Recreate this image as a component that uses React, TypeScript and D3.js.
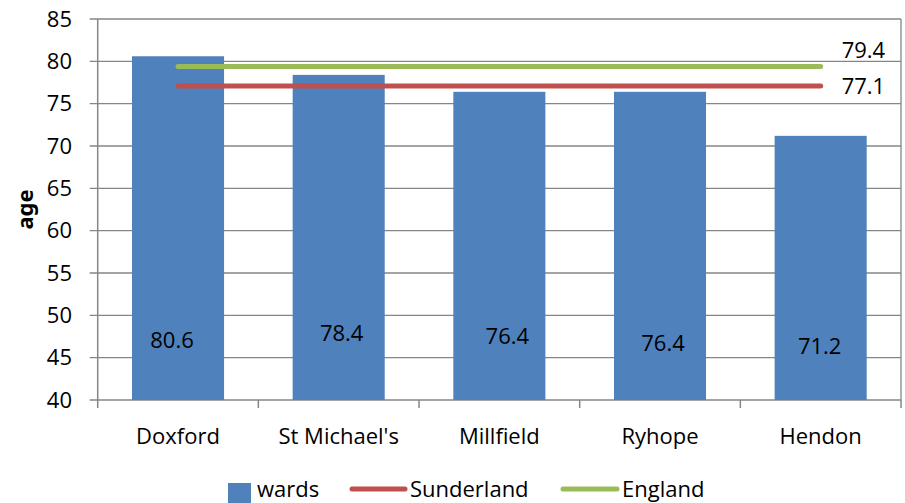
import React from "react";
import * as d3 from "d3";

// Ward life expectancy compared with Sunderland and England averages
const wards = ["Doxford", "St Michael's", "Millfield", "Ryhope", "Hendon"];
const wardAge = [80.6, 78.4, 76.4, 76.4, 71.2];
const sunderlandAge = 77.1;
const englandAge = 79.4;
const yTicks = [40, 45, 50, 55, 60, 65, 70, 75, 80, 85];

// hand-placed label nudges (px) for the in-bar value labels
const labelDx = [-6, 3, 8, 3, -1];
const labelDy = [0, -7, -4, 3, 6];

const W = 905;
const H = 503;
const FONT = "'Open Sans', 'Noto Sans', 'DejaVu Sans', sans-serif";
const GRID = "#868686";

export default function App() {
  const left = 97.7;
  const right = 901;
  const top = 19;
  const bottom = 400;

  const x = d3
    .scaleBand<string>()
    .domain(wards)
    .range([left, right])
    .paddingInner(0.427)
    .paddingOuter(0.2135);
  const step = x.step();
  const y = d3.scaleLinear().domain([40, 85]).range([bottom, top]);

  const cx = (w: string) => (x(w) as number) + x.bandwidth() / 2;
  const lineX0 = cx(wards[0]);
  const lineX1 = cx(wards[wards.length - 1]);

  const fs = 22;
  const legY = 489;

  return (
    <div style={{ position: "fixed", left: 0, top: 0, width: W, height: H, background: "#fff" }}>
      <svg width={W} height={H} style={{ display: "block", fontFamily: FONT }}>
        {/* gridlines */}
        {yTicks.map((t) => (
          <line key={t} x1={left - 8} x2={right} y1={y(t)} y2={y(t)} stroke={GRID} strokeWidth={1.3} />
        ))}
        {/* right border */}
        <line x1={right} x2={right} y1={top} y2={bottom} stroke={GRID} strokeWidth={1.3} />
        {/* y axis */}
        <line x1={left} x2={left} y1={top} y2={bottom + 8} stroke={GRID} strokeWidth={1.5} />
        {/* category ticks */}
        {wards.map((w, i) => (
          <line
            key={w}
            x1={left + step * (i + 1)}
            x2={left + step * (i + 1)}
            y1={bottom}
            y2={bottom + 8}
            stroke={GRID}
            strokeWidth={1.5}
          />
        ))}
        {/* y tick labels */}
        {yTicks.map((t) => (
          <text key={t} x={72} y={y(t)} dy="0.35em" textAnchor="end" fontSize={fs} fill="#000">
            {t}
          </text>
        ))}
        <text
          transform={`translate(25,${(top + bottom) / 2}) rotate(-90)`}
          textAnchor="middle"
          dy="0.35em"
          fontSize={fs}
          fontWeight={700}
          fontFamily="'Noto Sans', 'DejaVu Sans', sans-serif"
          fill="#000"
        >
          age
        </text>
        {/* bars */}
        {wards.map((w, i) => (
          <rect
            key={w}
            x={x(w)}
            y={y(wardAge[i])}
            width={x.bandwidth()}
            height={bottom - y(wardAge[i])}
            fill="#4F81BD"
          />
        ))}
        {/* average lines */}
        <line x1={lineX0} x2={lineX1} y1={y(englandAge)} y2={y(englandAge)} stroke="#9BBB59" strokeWidth={5} strokeLinecap="round" />
        <line x1={lineX0} x2={lineX1} y1={y(sunderlandAge)} y2={y(sunderlandAge)} stroke="#C0504D" strokeWidth={5} strokeLinecap="round" />
        <text x={lineX1 + 21} y={y(englandAge) - 16} dy="0.35em" fontSize={fs} fill="#000">
          {englandAge}
        </text>
        <text x={lineX1 + 21} y={y(sunderlandAge)} dy="0.35em" fontSize={fs} fill="#000">
          {sunderlandAge}
        </text>
        {/* value labels */}
        {wards.map((w, i) => (
          <text
            key={w}
            x={cx(w) + labelDx[i]}
            y={340 + labelDy[i]}
            dy="0.35em"
            textAnchor="middle"
            fontSize={fs}
            fill="#000"
          >
            {wardAge[i].toFixed(1)}
          </text>
        ))}
        {/* category labels */}
        {wards.map((w) => (
          <text key={w} x={cx(w)} y={436} dy="0.35em" textAnchor="middle" fontSize={fs} fill="#000">
            {w}
          </text>
        ))}
        {/* legend */}
        <rect x={228} y={483} width={23} height={20} fill="#4F81BD" />
        <text x={257} y={legY} dy="0.35em" fontSize={fs} fill="#000">wards</text>
        <line x1={352} x2={405} y1={legY} y2={legY} stroke="#C0504D" strokeWidth={5} strokeLinecap="round" />
        <text x={410} y={legY} dy="0.35em" fontSize={fs} fill="#000">Sunderland</text>
        <line x1={563} x2={617} y1={legY} y2={legY} stroke="#9BBB59" strokeWidth={5} strokeLinecap="round" />
        <text x={622} y={legY} dy="0.35em" fontSize={fs} fill="#000">England</text>
      </svg>
    </div>
  );
}
